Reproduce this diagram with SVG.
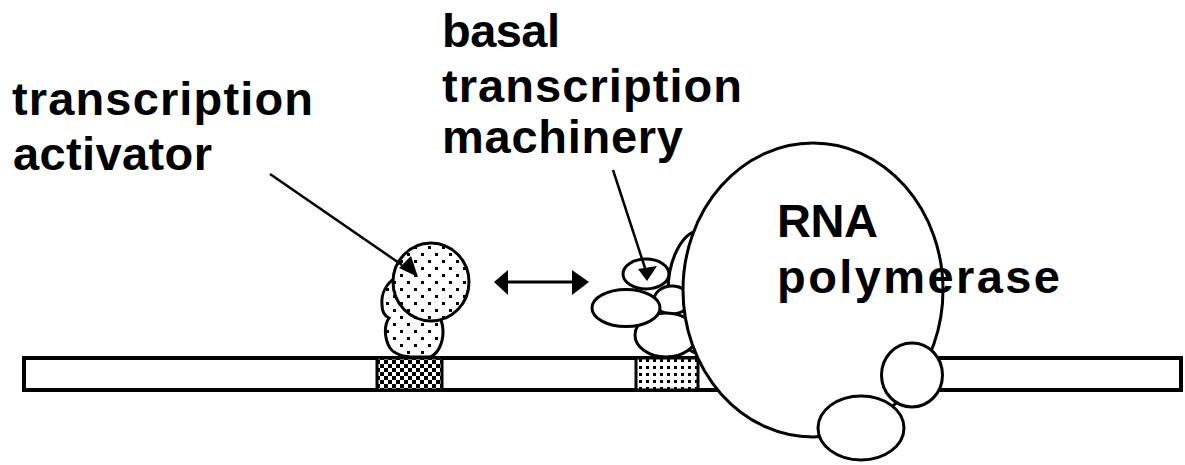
<svg xmlns="http://www.w3.org/2000/svg" width="1185" height="465" viewBox="0 0 1185 465">
  <defs>
    <!-- stippled fill for the activator protein -->
    <pattern id="stipple" width="14" height="14" patternUnits="userSpaceOnUse">
      <rect width="14" height="14" fill="#fff"/>
      <rect x="1" y="1" width="3" height="3" fill="#000"/>
      <rect x="8" y="8" width="3" height="3" fill="#000"/>
    </pattern>
    <!-- dotted grid for the core promoter box -->
    <pattern id="grid-dots" width="7" height="7" patternUnits="userSpaceOnUse">
      <rect width="7" height="7" fill="#fff"/>
      <rect x="2" y="2" width="3" height="3" fill="#000"/>
    </pattern>
    <!-- checkerboard for the enhancer box -->
    <pattern id="checker" width="8" height="8" patternUnits="userSpaceOnUse">
      <rect width="8" height="8" fill="#fff"/>
      <rect x="0" y="0" width="4" height="4" fill="#000"/>
      <rect x="4" y="4" width="4" height="4" fill="#000"/>
    </pattern>
    <style>
      .outline { stroke: #000; stroke-width: 3; }
      .blank { fill: #fff; }
      .label { font-family: "Liberation Sans", Arial, sans-serif; font-weight: bold; font-size: 47px; fill: #000; }
      .pointer { stroke: #000; stroke-width: 2.5; fill: none; }
      .head { fill: #000; }
    </style>
  </defs>

  <rect width="1185" height="465" fill="#fff"/>

  <!-- DNA strand -->
  <g id="dna">
    <rect x="24" y="358" width="1157" height="32" class="blank" stroke="#000" stroke-width="4"/>
    <rect id="enhancer" x="377" y="358" width="65" height="32" fill="url(#checker)" class="outline"/>
    <rect id="promoter" x="636" y="358" width="62" height="32" fill="url(#grid-dots)" class="outline"/>
  </g>

  <!-- transcription activator bound at the enhancer -->
  <g id="activator">
    <path d="M395,278 C386,284 381,294 382,305 C382,312 385,316 389,318 C384,325 384,338 390,348 C395,355 403,357 415,357 L430,357 C438,354 443,343 443,332 C443,326 442,322 440,318 L420,300 Z" fill="url(#stipple)" class="outline"/>
    <ellipse cx="431" cy="282" rx="38" ry="39" fill="url(#stipple)" class="outline"/>
  </g>

  <!-- basal transcription machinery at the promoter -->
  <g id="basal-machinery">
    <ellipse cx="646" cy="274" rx="23" ry="15" class="blank outline"/>
    <ellipse cx="702" cy="292" rx="34" ry="62" class="blank outline"/>
    <ellipse cx="672" cy="300" rx="18" ry="14" class="blank outline"/>
    <ellipse cx="666" cy="335" rx="31" ry="22" class="blank outline"/>
    <ellipse cx="626" cy="308" rx="34" ry="18.5" class="blank outline"/>
  </g>

  <!-- RNA polymerase and its subunits -->
  <g id="rna-polymerase">
    <ellipse cx="813" cy="290" rx="130" ry="147" class="blank outline"/>
    <ellipse cx="912" cy="375" rx="30.5" ry="32" class="blank outline"/>
    <ellipse cx="861" cy="428" rx="43" ry="32" class="blank outline"/>
  </g>

  <!-- labels -->
  <g id="label-activator">
    <text class="label" x="12" y="115" textLength="301" lengthAdjust="spacing">transcription</text>
    <text class="label" x="13" y="170" textLength="199" lengthAdjust="spacing">activator</text>
  </g>
  <g id="label-basal">
    <text class="label" x="442" y="47" textLength="118" lengthAdjust="spacing">basal</text>
    <text class="label" x="442" y="102" textLength="300" lengthAdjust="spacing">transcription</text>
    <text class="label" x="442" y="153" textLength="241" lengthAdjust="spacing">machinery</text>
  </g>
  <g id="label-polymerase">
    <text class="label" x="777" y="237" textLength="101" lengthAdjust="spacing">RNA</text>
    <text class="label" x="777" y="293" textLength="283" lengthAdjust="spacing">polymerase</text>
  </g>

  <!-- connectors -->
  <g id="connectors">
    <line class="pointer" x1="270" y1="174" x2="402" y2="265"/>
    <polygon class="head" points="418,277 399,268 411,256"/>
    <line class="pointer" x1="613" y1="170" x2="645" y2="268"/>
    <polygon class="head" points="647,281 638,269 657,266"/>
    <line x1="505" y1="282" x2="578" y2="282" stroke="#000" stroke-width="3"/>
    <polygon class="head" points="494,282 508,270 508,295"/>
    <polygon class="head" points="589,282 572,270 572,295"/>
  </g>
</svg>
